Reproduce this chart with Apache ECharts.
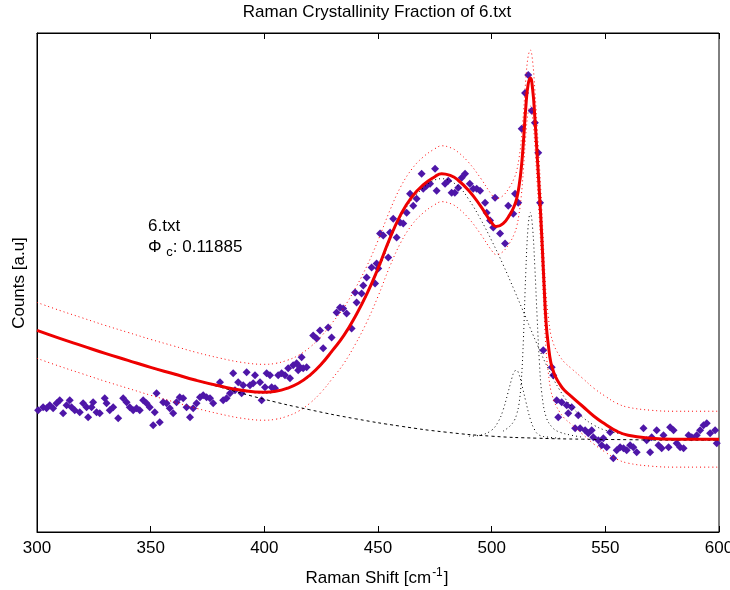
<!DOCTYPE html>
<html><head><meta charset="utf-8">
<script src="https://cdn.jsdelivr.net/npm/echarts@6/dist/echarts.min.js"></script>
<style>html,body{margin:0;padding:0;background:#fff;overflow:hidden}#c{width:730px;height:590px}</style>
</head><body><div id="c"></div>
<script>
// measured spectrum (Raman shift, counts in arbitrary units)
const dataX = [300.5,302.7,304.2,305.6,307.1,308.6,310.0,311.5,313.0,314.4,315.2,316.6,318.8,320.3,321.8,322.5,324.0,324.7,326.2,327.6,329.8,330.6,332.0,333.5,335.7,337.9,339.4,340.8,342.3,343.8,345.2,346.7,348.2,349.6,351.1,351.8,352.6,354.0,355.5,357.0,358.4,359.9,361.4,362.8,364.3,365.8,367.3,368.7,370.2,371.7,373.1,374.6,376.1,377.5,380.5,381.9,383.4,384.9,386.3,387.1,388.5,390.0,390.7,392.2,393.7,395.1,395.9,398.1,398.8,400.3,401.0,402.5,403.2,404.7,406.1,407.6,409.1,410.5,411.3,412.7,414.2,414.9,415.7,416.4,417.1,418.6,421.5,423.0,424.5,425.9,428.1,429.6,431.8,433.3,434.7,436.2,438.4,439.9,440.6,442.8,443.5,445.0,447.2,448.7,449.4,450.1,450.9,452.3,454.5,455.3,456.7,458.2,459.7,461.1,462.6,464.1,465.5,467.0,469.2,469.9,471.4,472.9,475.1,475.8,479.5,480.9,482.4,483.8,485.3,486.8,488.3,490.4,491.9,493.4,494.9,497.1,497.8,499.3,500.7,501.5,503.7,505.9,507.3,509.5,510.3,511.7,513.2,514.7,516.1,517.6,519.0,520.5,521.3,522.7,526.4,527.1,528.6,529.3,530.8,533.0,533.7,535.2,536.7,538.1,538.9,541.1,542.5,544.0,544.7,546.9,548.4,549.1,550.6,552.1,553.5,555.0,556.5,558.0,559.4,560.9,562.3,563.8,566.8,568.2,569.7,570.4,572.6,573.4,574.8,575.6,577.8,578.5,580.0,581.4,582.9,584.4,586.6,588.0,590.2,591.7,593.2,594.6,596.1,598.3,599.0];
const dataY = [122,125,124,127,124,129,132,119,127,132,125,122,120,129,125,115,125,130,120,119,134,129,122,125,114,134,130,125,122,124,122,132,129,125,107,120,139,110,130,129,124,119,130,135,134,125,115,124,129,135,137,135,134,129,150,132,134,139,159,142,150,139,147,160,147,149,157,150,132,145,159,157,145,144,157,159,157,164,154,167,169,162,165,175,164,165,197,194,202,184,205,195,220,225,224,219,204,240,230,239,247,255,265,249,269,264,299,297,275,300,314,295,310,309,320,339,327,334,359,344,347,349,364,342,349,352,340,340,345,355,359,349,344,344,342,330,320,312,305,335,299,289,327,319,339,330,404,440,458,422,410,380,330,182,165,157,132,115,130,127,119,125,104,117,104,102,99,102,95,92,87,94,85,100,74,82,85,84,82,87,85,80,104,92,80,95,102,87,84,97,85,105,102,89,85,84,97,95,97,102,107,109,99,102,89];

// total fit and confidence band
const fitX = [300,310,320,330,340,350,360,370,380,390,400,405,410,415,420,425,430,435,440,445,450,455,460,465,470,475,478,482,485,490,495,500,502,505,508,510,511,512,513,514,515,516,517,518,519,520,521,522,523,524,525,526,527,528,530,532,535,540,545,550,555,560,570,580,590,600];
const fitY = [202,194,186.5,179,172,165,158.5,152,146.5,142,140,141,144,149,157,168,182,197,216,238,264,293,318,336,348,356,359,357,353,342,327,310,306,309,318,327,334,346,364,392,425,448,455,444,415,378,340,298,250,208,186,170,162,156,148,142,136,126,116,108,101,97,94,93,93,93];
const fitUpper = [230,222,214.5,207,200,193,186.5,180,174.5,170,168,169,172,177,185,196,210,225,244,266,292,321,346,364,376,384,387,385,381,370,355,338,334,337,346,355,362,374,392,420,453,476,483,472,443,406,368,326,278,236,214,198,190,184,176,170,164,154,144,136,129,125,122,121,121,121];
const fitLower = [174,166,158.5,151,144,137,130.5,124,118.5,114,112,113,116,121,129,140,154,169,188,210,236,265,290,308,320,328,331,329,325,314,299,282,278,281,290,299,306,318,336,364,397,420,427,416,387,350,312,270,222,180,158,142,134,128,120,114,108,98,88,80,73,69,66,65,65,65];

// background
const baseX = [300,320,340,360,380,400,420,440,460,480,500,520,540,560,580,600];
const baseY = [202,186.5,171.5,158,145.5,133,122.5,113.5,106,100,96,94,93,92.5,92,92];

// components (drawn on top of the background)
const amX = [380,400,410,420,430,440,450,460,470,478,485,490,495,500,505,510,515,520,525,530,535,540,545,550,560,570,580,600];
const amY = [146,139,144,156,181,215,262,316,345,354,347,333,314,292,268,242,215,188,163,142,126,115,107,102,97,94,93,92];
const smX = [490,495,500,503,505,507,509,510,511,512,513,515,517,519,521,525,530];
const smY = [96,97,102,111,122,138,155,161,162,158,150,131,113,102,97,95,94];
const crX = [505,508,510,511,512,513,514,515,516,517,518,519,520,521,522,524,527,530,535,540];
const crY = [101,106,112,118,128,150,195,260,305,320,305,265,215,170,140,115,104,100,97,95];

const xTicks = [300,350,400,450,500,550,600];

const zip = (xs, ys) => xs.map((x, i) => [x, ys[i]]);
const FONT = 'Liberation Sans';
const FS = 17;
const chart = echarts.init(document.getElementById('c'), null, {renderer: 'canvas'});
const dotted = (name, xs, ys, color) => ({
  name, type: 'line', data: zip(xs, ys), symbol: 'none', smooth: 0.4,
  lineStyle: {color, width: 1, type: [1, 3]}, z: 3, silent: true
});
chart.setOption({
  backgroundColor: '#fff',
  animation: false,
  grid: {left: 37, right: 11, top: 33, bottom: 58, show: true, borderColor: '#000', borderWidth: 1,
    containLabel: false, outerBoundsMode: 'none'},
  xAxis: [{
    type: 'value', min: xTicks[0], max: xTicks[xTicks.length - 1], interval: 50,
    axisLine: {lineStyle: {color: '#000'}},
    axisTick: {inside: true, length: 6, lineStyle: {color: '#000'}},
    axisLabel: {color: '#000', fontFamily: FONT, fontSize: FS, margin: 8, hideOverlap: false},
    splitLine: {show: false}
  }, {
    type: 'value', position: 'top', min: xTicks[0], max: xTicks[xTicks.length - 1], interval: 50,
    axisLine: {lineStyle: {color: '#000'}},
    axisTick: {inside: true, length: 6, lineStyle: {color: '#000'}},
    axisLabel: {show: false}, splitLine: {show: false}
  }],
  yAxis: {type: 'value', min: 0, max: 500, axisLabel: {show: false}, axisTick: {show: false},
    splitLine: {show: false}, axisLine: {show: true, lineStyle: {color: '#000'}}},
  series: [
    {name: 'data', type: 'scatter', data: zip(dataX, dataY), symbol: 'diamond', symbolSize: 8,
      itemStyle: {color: '#4e16a8', opacity: 1}, z: 2, silent: true},
    dotted('amorphous', amX, amY, '#000'),
    dotted('intermediate', smX, smY, '#000'),
    dotted('crystalline', crX, crY, '#000'),
    dotted('upper', fitX, fitUpper, '#ff0000'),
    dotted('lower', fitX, fitLower, '#ff0000'),
    {name: 'baseline', type: 'line', data: zip(baseX, baseY), symbol: 'none', smooth: 0.5,
      lineStyle: {color: '#000', width: 1, type: [3, 3]}, z: 4, silent: true},
    {name: 'fit', type: 'line', data: zip(fitX, fitY), symbol: 'none', smooth: 0.5,
      lineStyle: {color: '#ee0000', width: 3}, z: 5, silent: true}
  ],
  graphic: [
    {type: 'text', x: 377, y: 4,
      style: {text: 'Raman Crystallinity Fraction of 6.txt', font: FS + 'px ' + FONT, fill: '#000', align: 'center', verticalAlign: 'top'}},
    {type: 'text', x: 19, y: 283, rotation: Math.PI / 2,
      style: {text: 'Counts [a.u]', font: FS + 'px ' + FONT, fill: '#000', align: 'center', verticalAlign: 'middle'}},
    {type: 'text', x: 377, y: 567,
      style: {text: '{n|Raman Shift [cm}{s|-1}{n|]}', align: 'center', verticalAlign: 'top',
        rich: {n: {fontFamily: FONT, fontSize: FS, fill: '#000'},
               s: {fontFamily: FONT, fontSize: 12, fill: '#000', padding: [0, 1, 10, 1]}}}},
    {type: 'text', x: 148, y: 218,
      style: {text: '{a|6.txt}\n{a|Φ }{s|c}{a|: 0.11885}',
        rich: {a: {fontFamily: FONT, fontSize: FS, fill: '#000', lineHeight: 17},
               s: {fontFamily: FONT, fontSize: 13, fill: '#000', padding: [11, 0, 0, 0]}}}}
  ]
});
</script></body></html>
